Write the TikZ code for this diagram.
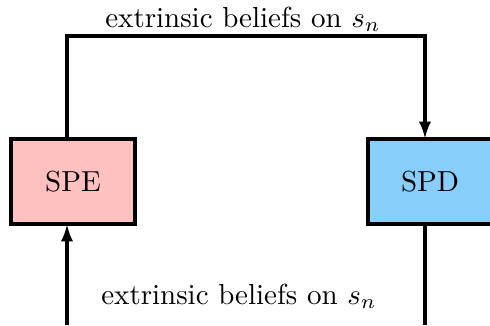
\documentclass[tikz,border=0pt]{standalone}
\usetikzlibrary{arrows.meta}
\definecolor{spefill}{RGB}{255,192,192}
\definecolor{spdfill}{RGB}{135,206,250}
\begin{document}
\begin{tikzpicture}[x=0.345pt,y=-0.345pt,
  blockbox/.style={draw=black,line width=1.2pt,minimum width=42.8pt,minimum height=29.3pt,inner sep=0pt,outer sep=0pt},
  conn/.style={line width=1.1pt},
  arr/.style={line width=1.1pt,-{Latex[length=6pt,width=4.2pt]}}]
\useasboundingbox (0,0) rectangle (490,325);
\node[blockbox,fill=spefill] (SPE) at (73,181.5) {SPE};
\node[blockbox,fill=spdfill] (SPD) at (430,181.5) {SPD};
\coordinate (tl) at (67,36);
\coordinate (tr) at (425,36);
\coordinate (bl) at (67,325);
\coordinate (br) at (425,325);
\draw[arr] (tl |- SPE.north) -- (tl) -- (tr) -- (tr |- SPD.north);
\draw[arr] (bl) -- (bl |- SPE.south);
\draw[conn] (br |- SPD.south) -- (br);
\node (top) at (243,19) {extrinsic beliefs on $s_n$};
\node (bot) at (239,296) {extrinsic beliefs on $s_n$};
\end{tikzpicture}
\end{document}
